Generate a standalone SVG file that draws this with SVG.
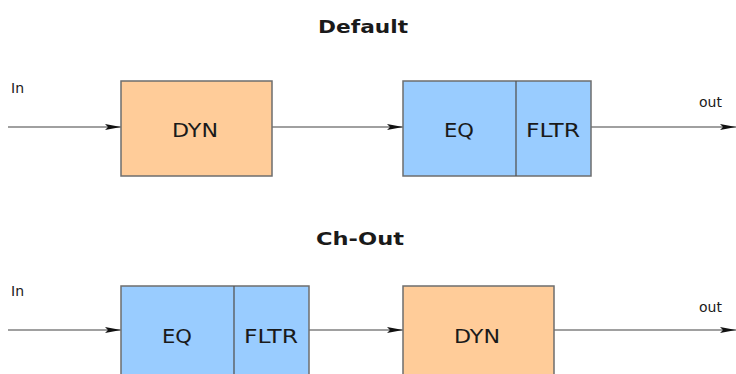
<svg xmlns="http://www.w3.org/2000/svg" width="736" height="374" viewBox="0 0 736 374">
<defs>
<style>
.t{font-family:"DejaVu Sans","Liberation Sans",sans-serif;fill:#1a1a1a}
.title{font-size:18px;font-weight:bold}
.lab{font-size:20px}
.io{font-size:14px}
.orange{fill:#ffcc99;stroke:#6e6e6e;stroke-width:1.5}
.blue{fill:#99ccff;stroke:#6e6e6e;stroke-width:1.5}
.div{stroke:#555;stroke-width:1.3}
.wire{stroke:#808080;stroke-width:1.5;fill:none;marker-end:url(#ah)}
</style>
<marker id="ah" viewBox="0 0 16 6" refX="16" refY="3" markerWidth="16" markerHeight="6" markerUnits="userSpaceOnUse" orient="auto">
<path d="M0,0 L16,3 L0,6 L3,3 Z" fill="#111"/>
</marker>
</defs>
<rect width="736" height="374" fill="#fff"/>
<text class="t title" x="363" y="33" text-anchor="middle" textLength="90" lengthAdjust="spacingAndGlyphs">Default</text>
<text class="t title" x="360" y="245" text-anchor="middle" textLength="88" lengthAdjust="spacingAndGlyphs">Ch-Out</text>
<text class="t io" x="11" y="93">In</text>
<text class="t io" x="699" y="107">out</text>
<text class="t io" x="11" y="296">In</text>
<text class="t io" x="699" y="312">out</text>
<g id="connectors">
<line class="wire" x1="8" y1="127" x2="121" y2="127"/>
<line class="wire" x1="272" y1="127" x2="403" y2="127"/>
<line class="wire" x1="591" y1="127" x2="736" y2="127"/>
<line class="wire" x1="8" y1="330" x2="121" y2="330"/>
<line class="wire" x1="309" y1="330" x2="403" y2="330"/>
<line class="wire" x1="554" y1="330" x2="736" y2="330"/>
</g>
<g id="dyn1">
<rect class="orange" x="121" y="81" width="151" height="95"/>
<text class="t lab" x="195" y="137" text-anchor="middle" textLength="46" lengthAdjust="spacingAndGlyphs">DYN</text>
</g>
<g id="eqfltr1">
<rect class="blue" x="403" y="81" width="188" height="95"/>
<line class="div" x1="516" y1="81" x2="516" y2="176"/>
<text class="t lab" x="459" y="137" text-anchor="middle" textLength="30" lengthAdjust="spacingAndGlyphs">EQ</text>
<text class="t lab" x="553" y="137" text-anchor="middle" textLength="54" lengthAdjust="spacingAndGlyphs">FLTR</text>
</g>
<g id="eqfltr2">
<rect class="blue" x="121" y="286" width="188" height="100"/>
<line class="div" x1="234" y1="286" x2="234" y2="386"/>
<text class="t lab" x="177" y="343" text-anchor="middle" textLength="30" lengthAdjust="spacingAndGlyphs">EQ</text>
<text class="t lab" x="271" y="343" text-anchor="middle" textLength="54" lengthAdjust="spacingAndGlyphs">FLTR</text>
</g>
<g id="dyn2">
<rect class="orange" x="403" y="286" width="151" height="100"/>
<text class="t lab" x="477" y="343" text-anchor="middle" textLength="46" lengthAdjust="spacingAndGlyphs">DYN</text>
</g>
</svg>
